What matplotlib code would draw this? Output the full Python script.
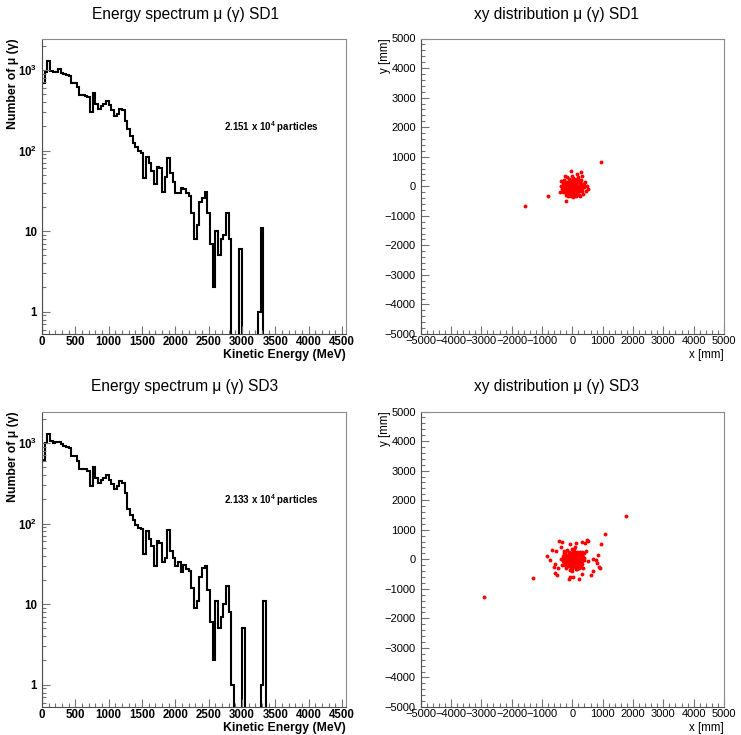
import numpy as np
import matplotlib
matplotlib.use("Agg")
import matplotlib.pyplot as plt
from matplotlib.ticker import MultipleLocator, LogLocator, NullFormatter

plt.rcParams['font.family'] = ['Liberation Sans', 'DejaVu Sans']
plt.rcParams['mathtext.fontset'] = 'custom'
plt.rcParams['mathtext.rm'] = 'Liberation Sans:bold'
plt.rcParams['mathtext.bf'] = 'Liberation Sans:bold'
plt.rcParams['mathtext.it'] = 'Liberation Sans:bold'

# energy histograms, 40 MeV bins from 0 to 4560 MeV
bin_edges = np.arange(0, 4561, 40)

sd1_counts = [690, 950, 1300, 960, 935, 950, 1020, 910, 880, 870,
              840, 690, 690, 617, 494, 490, 475, 460, 299, 515,
              380, 330, 353, 380, 407, 363, 314, 271, 285, 330,
              314, 235, 185, 152, 125, 110, 98, 92, 45, 82,
              70, 55, 38, 62, 60, 31, 47, 80, 52, 41,
              30, 30, 34, 33, 30, 27, 17, 8, 12, 23,
              26, 31, 17, 7, 2, 10, 5, 8, 9, 17,
              8, 0, 0, 0, 6, 0, 0, 0, 0, 0,
              0, 1, 11] + [0] * 31

sd3_counts = [620, 1000, 1300, 1050, 1000, 1020, 1030, 960, 920, 900,
              870, 690, 680, 600, 480, 480, 470, 450, 290, 505,
              370, 320, 345, 370, 395, 350, 305, 265, 290, 335,
              320, 240, 150, 128, 112, 95, 88, 85, 42, 80,
              65, 52, 30, 60, 58, 33, 37, 82, 45, 37,
              30, 33, 25, 31, 27, 26, 16, 9, 11, 22,
              28, 30, 15, 6, 2, 11, 5, 7, 10, 17,
              8, 1, 0, 0, 0, 5, 0, 0, 0, 0,
              0, 0, 1, 11] + [0] * 30

sd1_total = "2.151 x 10$^{4}$ particles"
sd3_total = "2.133 x 10$^{4}$ particles"

# xy hit positions (mm): dense core, halo, stray hits
core_hits = [(0, 0), (50, 30), (-60, 20), (100, -40), (-100, -60), (30, -100), (-30, 120), (120, 80),
             (-150, 40), (80, 150), (-80, -150), (150, -120), (200, 20), (-200, -20), (0, 200), (20, -200),
             (180, 150), (-180, 130), (-170, -160), (160, -190), (250, -50), (-250, 60), (60, 250), (-40, -250),
             (220, -150), (-220, -120), (100, -250), (-120, 230), (260, 100), (-270, -90), (300, 0), (-300, 10),
             (10, 280), (0, -300), (130, 0), (-130, 0), (0, 90), (0, -60), (70, -70), (-70, 70),
             (-250, -200), (-230, 150), (270, -170), (200, 200), (330, -60), (-320, -60), (350, 80),
             (-60, -320), (120, -320), (-10, 330), (150, 260), (-280, 200), (280, 200), (-200, -280),
             (230, -280), (380, -40), (400, 40), (-380, 20), (170, -60), (-170, -90), (110, 120),
             (-110, 120), (-40, -170), (40, 170), (250, 150), (-250, -60), (-30, -30), (30, 60),
             (80, -120), (-120, -100), (60, -10), (-60, -90), (190, -100), (-190, 60), (90, 210),
             (-90, 200), (140, -230), (-140, -230), (320, -150), (-310, 120)]

sd1_halo = [(-44, 532), (143, 418), (286, 475), (330, 339), (-242, 339), (-374, 170), (-407, -192),
            (-220, -486), (253, -339), (473, 0), (505, -90), (418, 136), (-297, -204), (-187, 305),
            (-350, -100), (360, -250), (20, -370), (-130, -330), (440, -160), (200, 300),
            (955, 813), (-1560, -680), (-790, -340)]

sd3_halo = [(330, 150), (-330, -200), (40, 330), (350, -300), (-160, 300), (240, 260), (-240, 240),
            (150, -320), (-90, -380), (90, 400), (280, -250), (-20, -400),
            (-429, 633), (-352, 599), (-77, 520), (121, 566), (330, 577), (473, 656), (528, 633),
            (418, 543), (-681, 328), (-539, 294), (-385, 430), (-275, 294), (-824, 102), (-736, -23),
            (-571, -158), (-593, -249), (-462, -294), (-571, -475), (-495, -520), (-77, -611),
            (-99, -667), (33, -588), (220, -667), (308, -498), (604, -520), (670, -385), (802, -136),
            (890, -249), (912, -294), (780, -23), (692, 11), (528, -45), (385, 204), (440, 294),
            (308, 238), (1770, 1457), (1076, 860), (945, 521), (857, 147), (-1308, -633),
            (-2902, -1267)]

W, H = 741, 735
fig = plt.figure(figsize=(W / 100, H / 100), dpi=100)


def frame(ax):
    for s in ax.spines.values():
        s.set_color('0.55')
        s.set_linewidth(0.8)
    ax.spines['left'].set_color('0.3')
    ax.spines['bottom'].set_color('0.3')


def spectrum(rect, counts, total, title, ty):
    ax = fig.add_axes(rect)
    counts = np.array(counts, dtype=float)
    ax.stairs(np.where(counts > 0, counts, 1e-2), bin_edges, color='black', lw=1.5)
    ax.set_yscale('log')
    ax.set_xlim(0, 4560)
    ax.set_ylim(0.53, 2450)
    ax.set_xticks(np.arange(0, 4501, 500))
    ax.xaxis.set_minor_locator(MultipleLocator(100))
    ax.set_yticks([1, 10, 100, 1000], labels=['1', '10', r'$10^{2}$', r'$10^{3}$'])
    ax.yaxis.set_minor_locator(LogLocator(subs=range(2, 10)))
    ax.yaxis.set_minor_formatter(NullFormatter())
    ax.tick_params(which='both', direction='in', top=False, right=False, color='0.45', width=0.8)
    ax.tick_params(which='major', length=6, labelsize=8.3)
    ax.tick_params(axis='x', pad=1.5)
    ax.tick_params(which='minor', length=3)
    for lab in ax.get_xticklabels() + ax.get_yticklabels():
        lab.set_fontweight('bold')
    ax.set_xlabel('Kinetic Energy (MeV)', loc='right', fontweight='bold', fontsize=8.8)
    ax.xaxis.set_label_coords(1.0, -0.05)
    ax.set_ylabel('Number of μ (γ)', loc='top', fontweight='bold', fontsize=8.8)
    ax.yaxis.set_label_coords(-0.075, 1.0)
    ax.text(0.755, 0.70, total, transform=ax.transAxes, ha='center', va='center',
            fontsize=7, fontweight='bold')
    frame(ax)
    fig.text(185 / W, ty, title, ha='center', va='center', fontsize=11.2)


def xy(rect, pts_list, title, ty):
    ax = fig.add_axes(rect)
    pts = np.array(pts_list, dtype=float)
    ax.plot(pts[:, 0], pts[:, 1], 'o', color='red', ms=2.8, mec='none')
    ax.set_xlim(-5000, 5000)
    ax.set_ylim(-5000, 5000)
    ax.xaxis.set_major_locator(MultipleLocator(1000))
    ax.yaxis.set_major_locator(MultipleLocator(1000))
    ax.xaxis.set_minor_locator(MultipleLocator(200))
    ax.yaxis.set_minor_locator(MultipleLocator(200))
    ax.tick_params(which='both', direction='in', top=False, right=False, color='0.45', width=0.8)
    ax.tick_params(which='major', length=6, labelsize=8)
    ax.tick_params(axis='x', pad=1.5)
    ax.tick_params(which='minor', length=3)
    ax.set_xlabel('x [mm]', loc='right', fontsize=8.3)
    ax.xaxis.set_label_coords(1.0, -0.05)
    ax.set_ylabel('y [mm]', loc='top', fontsize=8.3)
    ax.yaxis.set_label_coords(-0.098, 1.0)
    frame(ax)
    fig.text(556 / W, ty, title, ha='center', va='center', fontsize=11.2)


axh = 295.5 / H
spectrum([42 / W, 1 - 334 / H, 304 / W, axh], sd1_counts, sd1_total,
         'Energy spectrum μ (γ) SD1', 1 - 15 / H)
spectrum([42 / W, 1 - 707 / H, 304 / W, axh], sd3_counts, sd3_total,
         'Energy spectrum μ (γ) SD3', 1 - 386 / H)
xy([420.7 / W, 1 - 334 / H, 303.3 / W, axh], core_hits + sd1_halo,
   'xy distribution μ (γ) SD1', 1 - 15 / H)
xy([420.7 / W, 1 - 707 / H, 303.3 / W, axh], core_hits + sd3_halo,
   'xy distribution μ (γ) SD3', 1 - 386 / H)

fig.savefig('out.png', dpi=100)
